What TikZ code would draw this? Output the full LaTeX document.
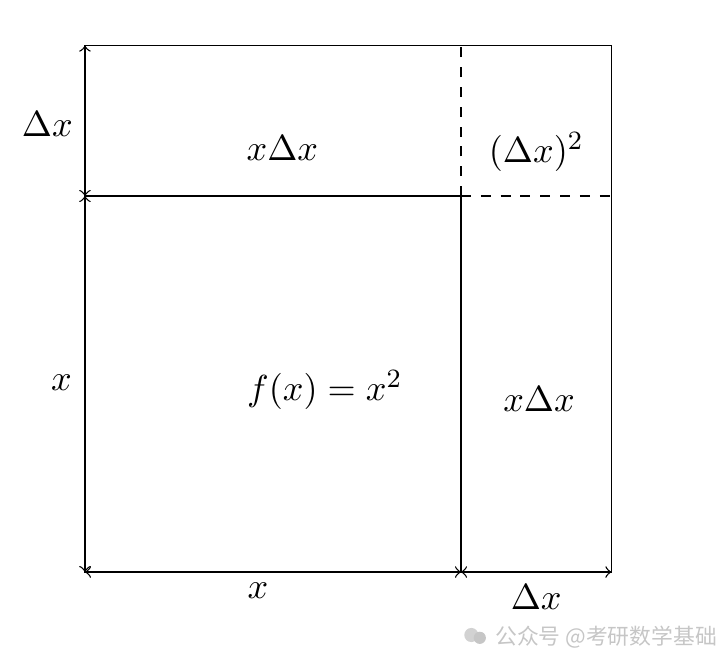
\documentclass[tikz,border=0pt]{standalone}
\usepackage{fontspec}
\newfontfamily\cjk{Noto Sans CJK SC}
\tikzset{
  dimline/.style={<->},
  lbl/.style={font=\fontsize{10.9}{13}\selectfont},
  mark text/.style={gray!45, font=\cjk\fontsize{6.6}{8}\selectfont}
}
\begin{document}
\begin{tikzpicture}
    \useasboundingbox (-0.904,-1.021) rectangle (6.819,6.085);

    % corners
    \coordinate (O) at (0,0);
    \coordinate (X) at (4,0);
    \coordinate (R) at (5.6,0);
    \coordinate (L) at (0,4);
    \coordinate (M) at (4,4);
    \coordinate (E) at (5.6,4);
    \coordinate (T) at (0,5.6);
    \coordinate (U) at (4,5.6);
    \coordinate (V) at (5.6,5.6);

    % square x by x
    \draw (O) rectangle (M);

    % outer border
    \draw (L) -- (T) -- (V) -- (R) -- (X);

    % corner piece
    \draw[dashed] (M) -- (U);
    \draw[dashed] (M) -- (E);

    % dimension arrows
    \draw[dimline] (O) -- (L);
    \draw[dimline] (L) -- (T);
    \draw[dimline] (O) -- (X);
    \draw[dimline] (X) -- (R);

    % labels
    \node[lbl] (dxl) at (-0.40,4.76) {$\Delta x$};
    \node[lbl] (xl) at (-0.25,2.01) {$x$};
    \node[lbl] (xb) at (1.84,-0.20) {$x$};
    \node[lbl] (dxb) at (4.80,-0.27) {$\Delta x$};
    \node[lbl] (top) at (2.10,4.51) {$x\Delta x$};
    \node[lbl] (sq) at (4.80,4.47) {$(\Delta x)^2$};
    \node[lbl] (fx) at (2.55,1.94) {$f(x)=x^2$};
    \node[lbl] (side) at (4.83,1.84) {$x\Delta x$};

    % watermark
    \fill[gray!35] (4.11,-0.67) circle (0.075);
    \fill[gray!45] (4.20,-0.70) circle (0.065);
    \node[mark text, anchor=west] (wm) at (4.24,-0.69) {公众号 @考研数学基础};
\end{tikzpicture}
\end{document}
